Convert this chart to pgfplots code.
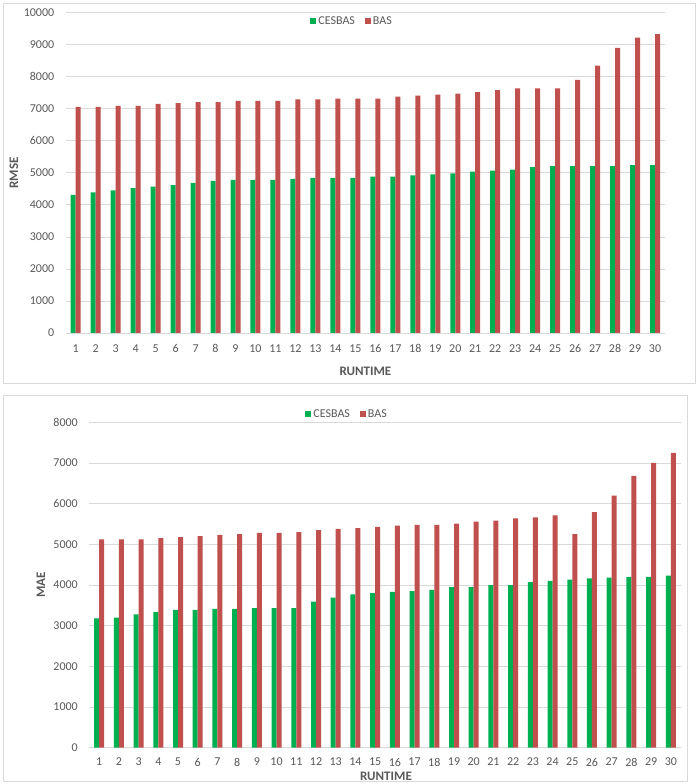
\documentclass[border=0pt]{standalone}
\usepackage{fontspec}
\setmainfont{Carlito}
\usepackage{pgfplots}
\usepackage{pgfplotstable}
\pgfplotsset{compat=1.18}
\definecolor{cgreen}{HTML}{00B050}
\definecolor{cred}{HTML}{C0504D}
\definecolor{ctext}{HTML}{595959}
\definecolor{cgrid}{HTML}{D9D9D9}

\pgfplotstableread{
x ces bas
1 4310 7060
2 4390 7060
3 4450 7090
4 4520 7090
5 4570 7150
6 4620 7180
7 4690 7210
8 4750 7210
9 4780 7250
10 4780 7250
11 4780 7250
12 4810 7290
13 4840 7290
14 4840 7320
15 4840 7320
16 4880 7320
17 4880 7380
18 4920 7410
19 4950 7440
20 4980 7470
21 5040 7520
22 5070 7580
23 5100 7640
24 5180 7640
25 5210 7640
26 5210 7900
27 5210 8350
28 5210 8900
29 5240 9220
30 5240 9330
}\rmsedata

\pgfplotstableread{
x ces bas
1 3180 5120
2 3200 5120
3 3280 5120
4 3340 5150
5 3390 5180
6 3390 5200
7 3410 5230
8 3410 5250
9 3430 5280
10 3430 5280
11 3430 5300
12 3590 5350
13 3690 5380
14 3770 5400
15 3800 5430
16 3830 5460
17 3850 5480
18 3880 5480
19 3950 5510
20 3950 5560
21 4000 5580
22 4000 5640
23 4070 5660
24 4100 5710
25 4130 5250
26 4160 5790
27 4180 6200
28 4200 6680
29 4200 7000
30 4230 7250
}\maedata

\pgfplotsset{
 mystyle/.style={
  scale only axis,
  ybar=0pt, bar width=5pt,
  xmin=0.5, xmax=30.5,
  xtick={1,...,30},
  ymin=0,
  scaled y ticks=false,
  axis line style={draw=none},
  major tick style={draw=none},
  ymajorgrids, grid style={cgrid, line width=0.8pt},
  tick label style={font=\fontsize{12}{14}\selectfont, text=ctext},
  xticklabel style={yshift=-4pt},
  yticklabel style={xshift=-8pt},
  /pgf/number format/assume math mode=true,
  /pgf/number format/1000 sep={},
  legend columns=2,
  legend style={draw=none, fill=none, font=\fontsize{12}{14}\selectfont, text=ctext, anchor=center,
    /tikz/every even column/.append style={column sep=8pt}},
  legend image code/.code={\fill[##1] (0pt,-3pt) rectangle (6pt,3pt);},
 }
}

\begin{document}
\begin{tikzpicture}
\useasboundingbox (0pt,0pt) rectangle (698pt,784pt);
\fill[white] (0pt,0pt) rectangle (698pt,784pt);
\draw[cgrid, line width=0.75pt] (3pt,401pt) rectangle (695pt,781pt);
\draw[cgrid, line width=0.75pt] (3pt,3pt) rectangle (687pt,389pt);

\begin{axis}[mystyle,
  at={(65.7pt,451pt)}, anchor=south west,
  width=599.3pt, height=320.3pt,
  ymax=10000, ytick={0,1000,...,10000},
  xlabel={RUNTIME}, ylabel={RMSE},
  xlabel style={at={(axis description cs:0.5,-0.1186)}, anchor=center, font=\bfseries\fontsize{13}{15}\selectfont, text=ctext},
  ylabel style={at={(axis description cs:-0.0863,0.5)}, rotate=0, anchor=center, font=\bfseries\fontsize{13}{15}\selectfont, text=ctext},
  legend style={at={(axis description cs:0.478,0.974)}},
]
\addplot[fill=cgreen, draw=none] table[x=x, y=ces] {\rmsedata};
\addplot[fill=cred, draw=none] table[x=x, y=bas] {\rmsedata};
\legend{CESBAS, BAS}
\end{axis}

\begin{axis}[mystyle,
  at={(89.3pt,36.3pt)}, anchor=south west,
  width=591.4pt, height=325.4pt,
  ymax=8000, ytick={0,1000,...,8000},
  xticklabel style={yshift=-1pt, inner sep=1pt},
  xlabel={RUNTIME}, ylabel={MAE},
  xlabel style={at={(axis description cs:0.5017,-0.087)}, anchor=center, inner sep=0pt, font=\bfseries\fontsize{13}{15}\selectfont, text=ctext},
  ylabel style={at={(axis description cs:-0.0817,0.5)}, rotate=0, anchor=center, font=\bfseries\fontsize{13}{15}\selectfont, text=ctext},
  legend style={at={(axis description cs:0.436,1.0255)}},
]
\addplot[fill=cgreen, draw=none] table[x=x, y=ces] {\maedata};
\addplot[fill=cred, draw=none] table[x=x, y=bas] {\maedata};
\legend{CESBAS, BAS}
\end{axis}
\end{tikzpicture}
\end{document}
